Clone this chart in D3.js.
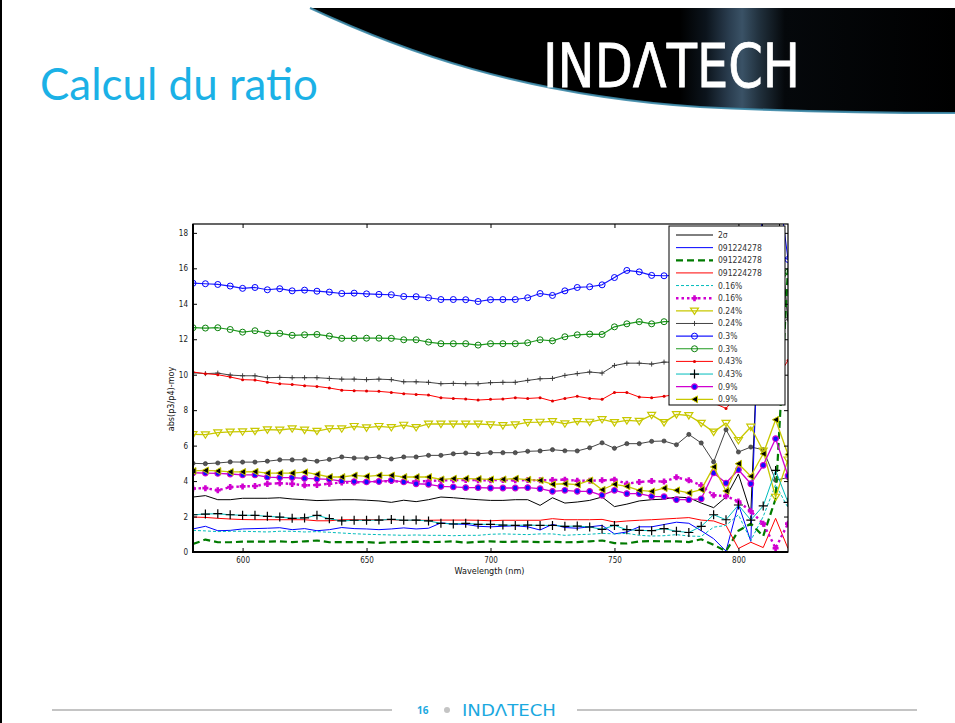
<!DOCTYPE html>
<html>
<head>
<meta charset="utf-8">
<script src="https://cdn.jsdelivr.net/npm/d3@7"></script>
<style>
  body { margin: 0; background: #fff; }
  svg { display: block; }
</style>
</head>
<body>
<div id="slide"></div>
<script>
// Wavelength grid (nm)
const wavelengths = [580,585,590,595,600,605,610,615,620,625,630,635,640,645,650,655,660,665,670,675,
  680,685,690,695,700,705,710,715,720,725,730,735,740,745,750,755,760,765,770,775,780,785,790,795,800,805,810,815,820];

// Series values
const sigma2 = [3.10,3.18,2.95,2.95,3.03,3.03,3.03,3.06,2.99,2.95, 2.90,2.92,2.95,2.95,2.92,2.88,2.80,2.92,2.84,2.95,
  3.10,3.06,3.00,2.95,2.91,2.91,2.95,2.95,2.63,3.06, 2.76,2.82,2.91,3.10,2.56,2.70,2.88,2.95,2.98,3.10,
  3.06,2.76,2.50,3.10,4.40,2.20,19.5,21.0,13.0];
const refBlue = [1.30,1.45,1.20,1.22,1.30,1.32,1.34,1.37,1.26,1.32, 1.20,1.26,1.38,1.32,1.30,1.26,1.30,1.36,1.30,1.34,
  1.64,1.58,1.56,1.45,1.42,1.45,1.48,1.42,1.24,1.56, 1.38,1.34,1.42,1.50,1.02,1.13,1.42,1.42,1.55,1.68,
  1.62,1.20,0.75,0.05,2.70,0.60,21.0,22.0,16.5];
const refGreen = [0.45,0.70,0.55,0.55,0.58,0.58,0.58,0.60,0.56,0.60, 0.65,0.55,0.56,0.56,0.56,0.52,0.55,0.56,0.58,0.56,
  0.57,0.60,0.53,0.57,0.60,0.57,0.58,0.58,0.56,0.58, 0.55,0.56,0.60,0.65,0.50,0.48,0.60,0.62,0.60,0.60,
  0.56,0.72,0.40,0.05,1.20,1.60,0.90,3.00,16.0];
const refRed = [1.97,1.95,1.90,1.86,1.83,1.82,1.82,1.82,1.82,1.82, 1.76,1.76,1.82,1.82,1.82,1.82,1.82,1.79,1.79,1.79,
  1.80,1.80,1.80,1.79,1.76,1.79,1.79,1.79,1.79,1.88, 1.82,1.82,1.82,1.84,1.69,1.75,1.79,1.82,1.86,1.90,
  1.94,1.80,1.75,1.50,0.20,0.55,0.25,1.90,0.20];
const c016Cyan = [1.22,1.19,1.15,1.17,1.17,1.15,1.13,1.17,1.17,1.13, 1.15,1.11,1.07,1.03,1.00,0.98,0.96,0.94,0.96,0.94,
  0.94,0.92,0.94,0.94,1.00,1.02,1.00,0.98,1.02,1.02, 0.94,0.98,1.00,1.05,1.02,1.05,0.94,0.90,0.92,0.98,
  0.90,0.88,1.40,1.50,2.10,0.65,2.00,3.80,2.50];
const c016Magenta = [3.58,3.60,3.48,3.66,3.70,3.72,3.84,3.88,3.84,3.76, 3.78,3.85,3.92,3.92,3.95,3.98,4.00,3.95,3.98,4.00,
  4.04,4.06,4.06,4.05,4.05,4.06,4.04,4.06,4.04,4.06, 4.08,4.02,4.02,4.04,4.08,3.85,3.95,4.00,3.97,4.21,
  4.04,3.76,3.20,3.15,2.85,2.30,1.60,0.22,1.60];
const c024Yellow = [6.63,6.62,6.73,6.77,6.79,6.82,6.90,6.88,6.96,6.88, 6.82,6.96,6.96,7.09,7.01,7.09,7.03,7.16,7.03,7.22,
  7.22,7.22,7.22,7.22,7.18,7.14,7.18,7.31,7.33,7.37, 7.24,7.37,7.33,7.48,7.31,7.42,7.38,7.72,7.31,7.76,
  7.70,7.27,6.77,7.27,6.30,7.05,5.70,3.10,5.20];
const c024Gray = [10.11,10.06,10.09,9.98,9.94,9.94,9.83,9.85,9.83,9.83, 9.83,9.79,9.75,9.75,9.72,9.75,9.72,9.60,9.60,9.57,
  9.49,9.51,9.49,9.49,9.55,9.57,9.57,9.68,9.77,9.79, 9.96,10.06,10.15,10.09,10.52,10.65,10.65,10.60,10.71,10.70,
  10.90,10.60,10.20,11.00,10.50,11.20,11.80,12.40,13.20];
const c03Blue = [15.16,15.13,15.09,15.00,14.87,14.92,14.79,14.85,14.73,14.77, 14.71,14.66,14.58,14.60,14.56,14.53,14.51,14.41,14.40,14.34,
  14.24,14.24,14.23,14.13,14.23,14.24,14.24,14.34,14.58,14.47, 14.73,14.92,14.96,15.07,15.48,15.88,15.80,15.60,15.58,15.60,
  15.70,15.50,15.90,16.10,15.60,16.40,17.20,16.80,16.50];
const c03Green = [12.65,12.63,12.65,12.55,12.40,12.48,12.33,12.33,12.22,12.25, 12.27,12.18,12.05,12.05,12.06,12.06,12.05,11.97,11.97,11.84,
  11.75,11.75,11.75,11.67,11.75,11.75,11.75,11.80,11.97,11.91, 12.14,12.25,12.29,12.27,12.70,12.87,12.99,12.87,12.99,13.00,
  13.10,12.90,13.20,13.40,13.00,13.60,14.20,14.80,15.80];
const c043Red = [10.15,10.06,10.00,9.87,9.72,9.70,9.58,9.49,9.45,9.38, 9.34,9.25,9.13,9.10,9.08,9.06,9.00,8.93,8.89,8.85,
  8.70,8.66,8.63,8.57,8.61,8.63,8.70,8.66,8.70,8.51, 8.66,8.78,8.66,8.61,9.00,9.00,8.74,8.70,8.78,8.90,
  8.80,8.70,8.40,8.10,8.90,9.30,8.60,9.70,10.80];
const c043Cyan = [2.10,2.14,2.16,2.10,2.07,2.07,2.01,1.97,1.90,1.92, 2.07,1.88,1.75,1.79,1.79,1.80,1.84,1.79,1.80,1.75,
  1.62,1.58,1.62,1.56,1.56,1.52,1.50,1.52,1.50,1.50, 1.45,1.46,1.41,1.28,1.50,1.26,1.22,1.20,1.32,1.17,
  1.10,1.45,2.10,1.82,2.65,1.80,2.60,4.60,2.80];
const c09Magenta = [4.47,4.45,4.43,4.40,4.35,4.35,4.22,4.20,4.20,4.15, 4.12,4.10,4.00,3.97,3.95,3.98,4.04,3.95,3.85,3.82,
  3.70,3.67,3.63,3.63,3.61,3.61,3.61,3.63,3.57,3.42, 3.48,3.42,3.42,3.20,3.48,3.29,3.29,3.14,3.12,2.95,
  2.95,3.00,4.46,3.89,4.64,3.85,4.89,6.39,4.30];
const c09Yellow = [4.57,4.60,4.57,4.52,4.52,4.53,4.45,4.45,4.45,4.50, 4.38,4.23,4.23,4.32,4.27,4.32,4.32,4.23,4.23,4.23,
  4.10,4.14,4.14,4.12,4.10,4.10,4.14,4.08,4.04,3.82, 3.85,3.80,4.04,3.51,3.82,3.70,3.48,3.42,3.60,3.48,
  3.33,3.52,4.80,3.44,4.98,4.27,5.54,7.46,5.50];
// extra grey curve that has no legend entry
const extraGray = [5.00,4.98,5.02,5.08,5.07,5.07,5.12,5.20,5.20,5.20, 5.12,5.22,5.36,5.30,5.30,5.36,5.25,5.36,5.36,5.45,
  5.45,5.54,5.58,5.54,5.60,5.60,5.60,5.68,5.70,5.77, 5.71,5.70,5.88,6.16,5.85,6.11,6.11,6.24,6.26,6.05,
  6.63,6.15,5.08,6.90,5.64,5.92,5.77,4.05,4.20];

const legendLabels = ["2\u03c3", "091224278", "091224278", "091224278", "0.16%", "0.16%", "0.24%",
  "0.24%", "0.3%", "0.3%", "0.43%", "0.43%", "0.9%", "0.9%"];
const xTicks = [600, 650, 700, 750, 800];
const yTicks = [0, 2, 4, 6, 8, 10, 12, 14, 16, 18];

// Drawing styles for each curve (in plot order)
const series = [
  { values: extraGray,   legend: -1, color: "#444", width: 1, marker: "dotFill", mcolor: "#555" },
  { values: sigma2,      legend: 0,  color: "#000", width: 1 },
  { values: refBlue,     legend: 1,  color: "#0000ff", width: 1 },
  { values: refGreen,    legend: 2,  color: "#007a00", width: 2.2, dash: "7,4" },
  { values: refRed,      legend: 3,  color: "#ff0000", width: 1 },
  { values: c016Cyan,    legend: 4,  color: "#00bcbc", width: 1, dash: "3,2" },
  { values: c016Magenta, legend: 5,  color: "#d000d0", width: 2.4, dash: "2.5,3", marker: "plusFat", mcolor: "#d000d0" },
  { values: c024Yellow,  legend: 6,  color: "#c8c800", width: 1.3, marker: "triDown", mcolor: "#c8c800" },
  { values: c024Gray,    legend: 7,  color: "#444", width: 1, marker: "plusSmall", mcolor: "#333" },
  { values: c03Blue,     legend: 8,  color: "#1a1aff", width: 1.2, marker: "circle", mcolor: "#0000ff" },
  { values: c03Green,    legend: 9,  color: "#1f9a1f", width: 1.2, marker: "circle", mcolor: "#0a800a" },
  { values: c043Red,     legend: 10, color: "#ff0000", width: 1, marker: "dotRed", mcolor: "#e00000" },
  { values: c043Cyan,    legend: 11, color: "#00bcbc", width: 1, marker: "plusBig", mcolor: "#000" },
  { values: c09Magenta,  legend: 12, color: "#d000d0", width: 1.3, marker: "circleBlue", mcolor: "#d000d0" },
  { values: c09Yellow,   legend: 13, color: "#c8c800", width: 1.3, marker: "triLeft", mcolor: "#c8c800" }
];

const W = 955, H = 723;
const plot = { left: 193, right: 788, top: 224, bottom: 552 };
const chartFont = "'Liberation Sans Narrow','DejaVu Sans Condensed','Arial Narrow',sans-serif";

const svg = d3.select("#slide").append("svg")
  .attr("width", W)
  .attr("height", H);

// ---- slide decoration ----
const defs = svg.append("defs");
const grad = defs.append("linearGradient")
  .attr("id", "bannerGrad")
  .attr("gradientUnits", "userSpaceOnUse")
  .attr("x1", 300).attr("x2", 955).attr("y1", 0).attr("y2", 0);
[[0, "#000"], [0.58, "#000"], [0.62, "#0c141c"], [0.655, "#2a3d4f"], [0.675, "#3a5266"],
 [0.7, "#22323f"], [0.74, "#05080b"], [1, "#000"]].forEach(([o, c]) => {
  grad.append("stop").attr("offset", o).attr("stop-color", c);
});

svg.append("path")
  .attr("d", "M310,8 C400,50 520,95 700,107 C820,113 900,113 955,113 L955,8 Z")
  .attr("fill", "url(#bannerGrad)");
svg.append("path")
  .attr("d", "M310,8 C400,50 520,95 700,107 C820,113 900,113 955,113")
  .attr("fill", "none")
  .attr("stroke", "#3d89a8")
  .attr("stroke-width", 2.2)
  .attr("opacity", 0.9);

svg.append("text")
  .attr("x", 543).attr("y", 87)
  .attr("textLength", 257)
  .attr("lengthAdjust", "spacingAndGlyphs")
  .attr("font-family", "'DejaVu Sans', sans-serif")
  .attr("font-size", 60)
  .attr("fill", "#fff")
  .attr("stroke", "#fff")
  .attr("stroke-width", 0.8)
  .text("IND\u039bTECH");

svg.append("text")
  .attr("x", 40).attr("y", 100)
  .attr("textLength", 278)
  .attr("lengthAdjust", "spacingAndGlyphs")
  .attr("font-family", "Lato, 'Open Sans', sans-serif")
  .attr("font-size", 45)
  .attr("fill", "#1bb1e6")
  .text("Calcul du ratio");

// left border of the slide
svg.append("rect").attr("x", 0).attr("y", 0).attr("width", 2).attr("height", H).attr("fill", "#000");

// footer
svg.append("line").attr("x1", 52).attr("x2", 392).attr("y1", 710).attr("y2", 710)
  .attr("stroke", "#c4c4c4").attr("stroke-width", 2);
svg.append("line").attr("x1", 577).attr("x2", 917).attr("y1", 710).attr("y2", 710)
  .attr("stroke", "#c4c4c4").attr("stroke-width", 2);
svg.append("text").attr("x", 417).attr("y", 714)
  .attr("font-family", "'Open Sans', sans-serif").attr("font-size", 10).attr("font-weight", "bold")
  .attr("fill", "#1ba9df").text("16");
svg.append("circle").attr("cx", 447).attr("cy", 710).attr("r", 3).attr("fill", "#c4c4c4");
svg.append("text").attr("x", 462).attr("y", 716)
  .attr("textLength", 94).attr("lengthAdjust", "spacingAndGlyphs")
  .attr("font-family", "'DejaVu Sans', sans-serif").attr("font-size", 16)
  .attr("fill", "#1ba9df").text("IND\u039bTECH");

// ---- chart ----
const x = d3.scaleLinear().domain([580, 820]).range([plot.left, plot.right]);
const y = d3.scaleLinear().domain([0, 18.5]).range([plot.bottom, plot.top]);

defs.append("clipPath").attr("id", "plotClip")
  .append("rect")
  .attr("x", plot.left).attr("y", plot.top)
  .attr("width", plot.right - plot.left).attr("height", plot.bottom - plot.top);

const chart = svg.append("g");
const curves = chart.append("g").attr("clip-path", "url(#plotClip)");

const line = d3.line()
  .x((d, i) => x(wavelengths[i]))
  .y(d => y(d));

function drawMarker(g, type, color) {
  if (type === "circle") {
    g.append("circle").attr("r", 3).attr("fill", "none").attr("stroke", color).attr("stroke-width", 1);
  } else if (type === "circleBlue") {
    g.append("circle").attr("r", 2.8).attr("fill", "#1010ff").attr("stroke", color).attr("stroke-width", 1.2);
  } else if (type === "dotFill") {
    g.append("circle").attr("r", 2.1).attr("fill", color).attr("stroke", "#333").attr("stroke-width", 0.6);
  } else if (type === "dotRed") {
    g.append("circle").attr("r", 1.5).attr("fill", color);
  } else if (type === "triDown") {
    g.append("path").attr("d", "M-4,-2.8L4,-2.8L0,3.6Z")
      .attr("fill", "none").attr("stroke", color).attr("stroke-width", 1.2);
  } else if (type === "triLeft") {
    g.append("path").attr("d", "M-3.2,0L3,-3.4L3,3.4Z")
      .attr("fill", "#000").attr("stroke", color).attr("stroke-width", 1);
  } else if (type === "plusSmall") {
    g.append("path").attr("d", "M-2.5,0H2.5M0,-2.5V2.5")
      .attr("stroke", color).attr("stroke-width", 0.9);
  } else if (type === "plusBig") {
    g.append("path").attr("d", "M-4.5,0H4.5M0,-4.5V4.5")
      .attr("stroke", color).attr("stroke-width", 1.2);
  } else if (type === "plusFat") {
    g.append("path").attr("d", "M-3,0H3M0,-3V3")
      .attr("stroke", color).attr("stroke-width", 2.6);
  }
}

series.forEach(s => {
  curves.append("path")
    .datum(s.values)
    .attr("d", line)
    .attr("fill", "none")
    .attr("stroke", s.color)
    .attr("stroke-width", s.width)
    .attr("stroke-dasharray", s.dash || null)
    .attr("stroke-linejoin", "round");
  if (s.marker) {
    curves.append("g").selectAll("g")
      .data(s.values)
      .join("g")
      .attr("transform", (d, i) => `translate(${x(wavelengths[i])},${y(d)})`)
      .each(function() { drawMarker(d3.select(this), s.marker, s.mcolor); });
  }
});

// axes with inward ticks (MATLAB style)
const axisStyle = g => {
  g.selectAll("text").attr("font-family", chartFont).attr("font-size", 8).attr("fill", "#222");
  g.selectAll(".tick line").attr("stroke", "#000");
  g.select(".domain").remove();
};

chart.append("g")
  .attr("transform", `translate(0,${plot.bottom})`)
  .call(d3.axisBottom(x).tickValues(xTicks).tickSize(-4).tickPadding(5))
  .call(axisStyle);
chart.append("g")
  .attr("transform", `translate(0,${plot.top})`)
  .call(d3.axisTop(x).tickValues(xTicks).tickSize(-4).tickFormat(""))
  .call(axisStyle);
chart.append("g")
  .attr("transform", `translate(${plot.left},0)`)
  .call(d3.axisLeft(y).tickValues(yTicks).tickSize(-4).tickPadding(5))
  .call(axisStyle);
chart.append("g")
  .attr("transform", `translate(${plot.right},0)`)
  .call(d3.axisRight(y).tickValues(yTicks).tickSize(-4).tickFormat(""))
  .call(axisStyle);

// axes box
chart.append("rect")
  .attr("x", plot.left).attr("y", plot.top)
  .attr("width", plot.right - plot.left).attr("height", plot.bottom - plot.top)
  .attr("fill", "none").attr("stroke", "#000").attr("stroke-width", 1.2);
chart.append("line")
  .attr("x1", plot.left).attr("x2", plot.left).attr("y1", plot.top).attr("y2", plot.bottom + 1)
  .attr("stroke", "#000").attr("stroke-width", 2);
chart.append("line")
  .attr("x1", plot.left).attr("x2", plot.right).attr("y1", plot.bottom).attr("y2", plot.bottom)
  .attr("stroke", "#000").attr("stroke-width", 2);

// axis labels
chart.append("text")
  .attr("x", (plot.left + plot.right) / 2 - 1).attr("y", 574)
  .attr("text-anchor", "middle")
  .attr("font-family", chartFont).attr("font-size", 9).attr("fill", "#111")
  .text("Wavelength (nm)");
chart.append("text")
  .attr("transform", "translate(174,399) rotate(-90)")
  .attr("text-anchor", "middle")
  .attr("font-family", chartFont).attr("font-size", 9).attr("fill", "#111")
  .text("abs(p3/p4)-moy");

// ---- legend ----
const legend = chart.append("g");
legend.append("rect")
  .attr("x", 669).attr("y", 226).attr("width", 116).attr("height", 179)
  .attr("fill", "#fff").attr("stroke", "#000").attr("stroke-width", 1);

series.filter(s => s.legend >= 0).forEach(s => {
  const ly = 235 + s.legend * 12.64;
  const row = legend.append("g");
  row.append("line")
    .attr("x1", 676).attr("x2", 713).attr("y1", ly).attr("y2", ly)
    .attr("stroke", s.color)
    .attr("stroke-width", s.width)
    .attr("stroke-dasharray", s.dash || null);
  if (s.marker) {
    const m = row.append("g").attr("transform", `translate(694.5,${ly})`);
    drawMarker(m, s.marker, s.mcolor);
  }
  row.append("text")
    .attr("x", 718).attr("y", ly + 3)
    .attr("font-family", chartFont).attr("font-size", 8.5).attr("fill", "#333")
    .text(legendLabels[s.legend]);
});
</script>
</body>
</html>
